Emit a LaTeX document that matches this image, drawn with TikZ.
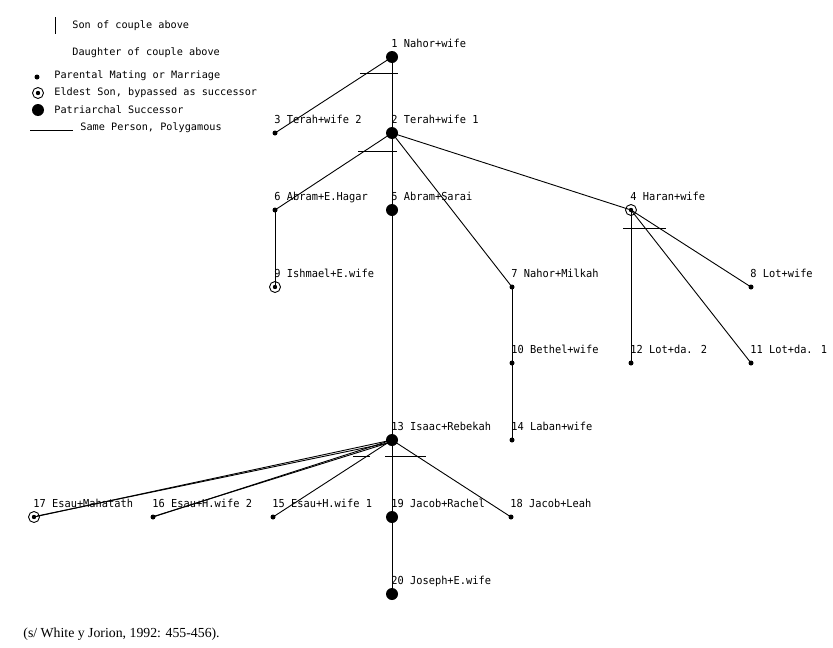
\documentclass[tikz,border=0pt]{standalone}
\usepackage{fontspec}
\newfontfamily\plotfont{DejaVu Sans Mono}
\newfontfamily\labfont{DejaVu Sans Mono}[FakeStretch=0.94]
\newfontfamily\citefont{Liberation Serif}
\usetikzlibrary{calc}

% one couple: dot plus its label
\newcommand{\couple}[5]{%
  \node[#4] (#1) at (#2,#3) {};
  \node[lbl] (#1-l) at (#2-1,#3-10) {#5};
}

\begin{document}
\begin{tikzpicture}
        [x=1pt,y=-1pt,line width=0.9pt,
         succ/.style={circle,fill=black,inner sep=0pt,minimum size=12pt},
         mate/.style={circle,fill=black,inner sep=0pt,minimum size=5pt},
         eldest/.style={circle,draw=black,line width=0.9pt,inner sep=0pt,minimum size=11pt,
            path picture={\fill (path picture bounding box.center) circle (2.2pt);}},
         lbl/.style={anchor=base west,inner sep=0pt,font=\labfont\fontsize{11}{13}\selectfont},
         key/.style={anchor=base west,inner sep=0pt,font=\plotfont\fontsize{10.2}{12}\selectfont}]
    \useasboundingbox (0,0) rectangle (833,648);

    % legend
    \draw (55,17) -- (55,34);
    \node[key] (k-son) at (72,28) {Son of couple above};
    \node[key] (k-dau) at (72,55) {Daughter of couple above};
    \node[mate] (k-mate) at (37,77) {};
    \node[key] (k-mate-l) at (54,78) {Parental Mating or Marriage};
    \node[eldest] (k-eld) at (38,93) {};
    \node[key] (k-eld-l) at (54,95) {Eldest Son, bypassed as successor};
    \node[succ] (k-succ) at (38,110) {};
    \node[key] (k-succ-l) at (54,113) {Patriarchal Successor};
    \draw (30,130) -- (73,130);
    \node[key] (k-poly) at (80,130) {Same Person, Polygamous};

    % couples
    \couple{n1}{392}{57}{succ}{1 Nahor+wife}
    \couple{n2}{392}{133}{succ}{2 Terah+wife 1}
    \couple{n3}{275}{133}{mate}{3 Terah+wife 2}
    \couple{n4}{631}{210}{eldest}{4 Haran+wife}
    \couple{n5}{392}{210}{succ}{5 Abram+Sarai}
    \couple{n6}{275}{210}{mate}{6 Abram+E.Hagar}
    \couple{n7}{512}{287}{mate}{7 Nahor+Milkah}
    \couple{n8}{751}{287}{mate}{8 Lot+wife}
    \couple{n9}{275}{287}{eldest}{9 Ishmael+E.wife}
    \couple{n10}{512}{363}{mate}{10 Bethel+wife}
    \couple{n11}{751}{363}{mate}{11 Lot+da. 1}
    \couple{n12}{631}{363}{mate}{12 Lot+da. 2}
    \couple{n13}{392}{440}{succ}{13 Isaac+Rebekah}
    \couple{n14}{512}{440}{mate}{14 Laban+wife}
    \couple{n15}{273}{517}{mate}{15 Esau+H.wife 1}
    \couple{n16}{153}{517}{mate}{16 Esau+H.wife 2}
    \couple{n17}{34}{517}{eldest}{17 Esau+Mahatath}
    \couple{n18}{511}{517}{mate}{18 Jacob+Leah}
    \couple{n19}{392}{517}{succ}{19 Jacob+Rachel}
    \couple{n20}{392}{594}{succ}{20 Joseph+E.wife}

    % descent lines
    \foreach \a/\b in {n1/n2,n1/n3,n2/n6,n2/n5,n2/n7,n2/n4,n6/n9,n5/n13,
                       n4/n12,n4/n11,n4/n8,n7/n10,n10/n14,
                       n13/n17,n13/n16,n13/n15,n13/n19,n13/n18,n19/n20}
        \draw (\a.center) -- (\b.center);
    \draw ([shift={(-4,3)}]n13.center) -- ([shift={(3,-1)}]n17.center);
    \draw ([shift={(-4,3)}]n13.center) -- ([shift={(2,-1)}]n16.center);

    % same person, polygamous
    \draw ([shift={(-32,16)}]n1.center) -- ++(38,0);
    \draw ([shift={(-34,18)}]n2.center) -- ++(39,0);
    \draw ([shift={(-8,18)}]n4.center) -- ++(43,0);
    \draw ([shift={(-7,16)}]n13.center) -- ++(41,0);
    \draw ([shift={(-39,16)}]n13.center) -- ++(17,0);

    \node[anchor=base west,inner sep=0pt,font=\citefont\fontsize{13.8}{16}\selectfont]
        (cite) at (23,637) {(s/ White y Jorion, 1992: 455-456).};
\end{tikzpicture}
\end{document}
